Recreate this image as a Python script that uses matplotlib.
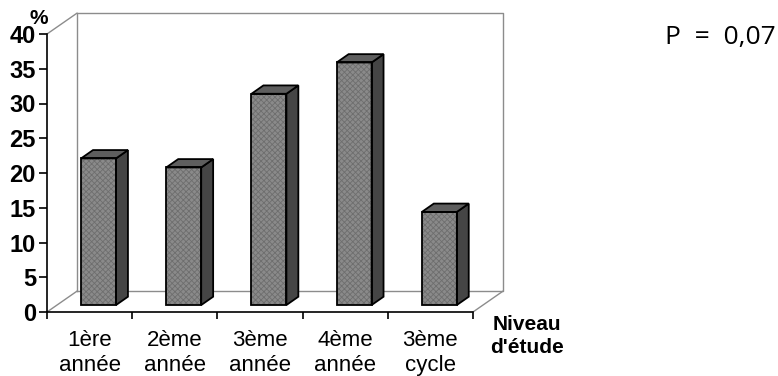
import matplotlib
matplotlib.use("Agg")
import matplotlib.pyplot as plt
from matplotlib.patches import Polygon

# données
niveaux = ["1ère\nannée", "2ème\nannée", "3ème\nannée", "4ème\nannée", "3ème\ncycle"]
pourcentages = [21.1, 19.8, 30.4, 34.9, 13.4]
yticks = [0, 5, 10, 15, 20, 25, 30, 35, 40]

plt.rcParams['font.family'] = ['Liberation Sans', 'DejaVu Sans']
plt.rcParams['hatch.linewidth'] = 0.6

fig = plt.figure(figsize=(7.78, 3.76), dpi=100)
ax = fig.add_axes([47 / 778, (376 - 312) / 376, 5.5 * 85.2 / 778, 44 * 6.95 / 376])
ax.set_xlim(0, 5.5)
ax.set_ylim(0, 44)

# profondeur du mur (effet 3D) en unités de données
ddx, ddy = 0.352, 3.0
ymax = 40
n = len(niveaux)
gris = "#8c8c8c"

# mur du fond + sol
ax.plot([ddx, ddx, n + ddx, n + ddx, ddx], [ddy, ymax + ddy, ymax + ddy, ddy, ddy],
        color=gris, lw=1, clip_on=False)
ax.plot([0, ddx], [ymax, ymax + ddy], color=gris, lw=1, clip_on=False)
ax.plot([0, ddx], [0, ddy], color=gris, lw=1, clip_on=False)
ax.plot([n, n + ddx], [0, ddy], color=gris, lw=1, clip_on=False)

# barres
base = 1.0
x0 = 0.40
w = 0.41
bdx, bdy = 0.14, 1.2
xs = [i + x0 for i in range(n)]

ax.bar(xs, pourcentages, width=w, bottom=base, align="edge", color="#8a8a8a",
       edgecolor="#6e6e6e", hatch="xxxxxx", lw=0, zorder=3)
ax.bar(xs, pourcentages, width=w, bottom=base, align="edge", fill=False,
       edgecolor="black", lw=1.3, zorder=4)
for x, v in zip(xs, pourcentages):
    top = base + v
    cote = Polygon([(x + w, base), (x + w + bdx, base + bdy), (x + w + bdx, top + bdy), (x + w, top)],
                   closed=True, facecolor="#454545", edgecolor="black", lw=1.3, zorder=3)
    dessus = Polygon([(x, top), (x + bdx, top + bdy), (x + w + bdx, top + bdy), (x + w, top)],
                     closed=True, facecolor="#5e5e5e", edgecolor="black", lw=1.3, zorder=3)
    ax.add_patch(cote)
    ax.add_patch(dessus)

# axes
for s in ["top", "right"]:
    ax.spines[s].set_visible(False)
ax.spines["left"].set_bounds(0, ymax)
ax.spines["bottom"].set_bounds(0, n)
ax.spines["left"].set_linewidth(1.2)
ax.spines["bottom"].set_linewidth(1.2)

ax.set_yticks(yticks)
ax.set_yticklabels([str(t) for t in yticks], fontsize=17, fontweight="bold")
ax.tick_params(axis="y", direction="out", length=6, width=1.2, pad=2)

ax.set_xticks(range(n + 1))
ax.set_xticklabels([])
ax.tick_params(axis="x", which="major", direction="out", length=5, width=1.2)
ax.set_xticks([i + 0.5 for i in range(n)], minor=True)
ax.set_xticklabels(niveaux, minor=True, fontsize=16, linespacing=1.25)
ax.tick_params(axis="x", which="minor", length=0, pad=13)

ax.text(-0.1, 42.2, "%", ha="center", va="center", fontsize=15, fontweight="bold")
fig.text(527 / 778, 1 - 336 / 376, "Niveau\nd'étude", ha="center", va="center",
         fontsize=15, fontweight="bold", linespacing=1.25)
fig.text(665 / 778, 1 - 37.5 / 376, "P  =  0,07", ha="left", va="center",
         fontsize=19, family=["Open Sans", "DejaVu Sans"])

fig.savefig("out.png", dpi=100)
